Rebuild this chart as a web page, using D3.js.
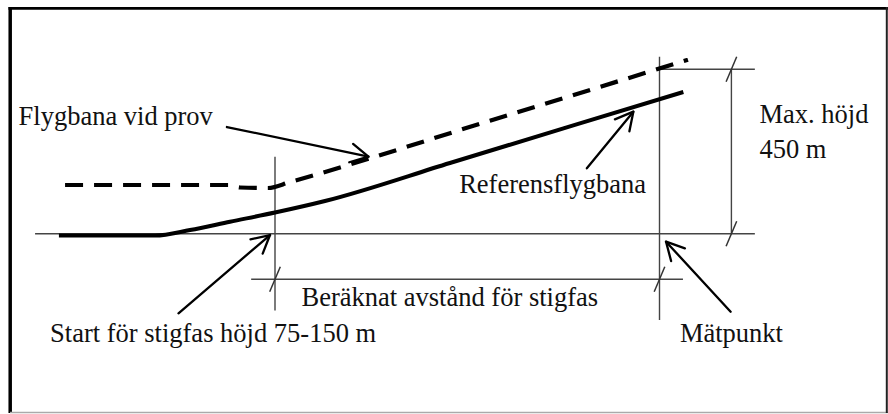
<!DOCTYPE html>
<html>
<head>
<meta charset="utf-8">
<script src="https://cdn.jsdelivr.net/npm/d3@7"></script>
<style>
  html, body { margin: 0; padding: 0; background: #fff; }
  svg { display: block; }
  text { font-family: "Liberation Serif", "Times New Roman", serif; font-size: 26.5px; fill: #111; }
</style>
</head>
<body>
<svg id="chart" width="888" height="414"></svg>
<script>
// ---- Data (x: distance units, 0 = start of climb, 100 = measuring point; y: height in m) ----
const referensflygbana = [[-56.2, -4.9], [-31.2, -4.9], [-22.1, 10.1], [-11.7, 32.8], [0, 58], [13, 89.5], [45.5, 193.5], [78.0, 297.8], [106.2, 387.9]];
const flygbanaVidProv = [[-54.6, 133.3], [-12.2, 133.3], [-9.1, 126.5], [-1.8, 125.1], [3.9, 141.5], [55.9, 309.3], [107.4, 476.1]];
const groundLine = [[-62.4, 0], [124.8, 0]];
const maxHeightLine = [[100, 450], [124.8, 450]];
const startVertical = [[0, 210.8], [0, -210.2]];
const measureVertical = [[100, 484.5], [100, -236.2]];
const heightDimension = [[118.7, 0], [118.7, 450]];
const distanceDimension = [[-6.2, -124.8], [106.1, -124.8]];
const dimensionTicks = [[118.7, 0], [118.7, 450], [0, -124.8], [100, -124.8]];
// arrows: [tailX, tailY, tipX, tipY]
const arrows = [
  [-12.5, 292, 24.3, 210.8],
  [81.1, 179, 93.2, 334],
  [-25.1, -217.9, -1.3, -3.6],
  [118.5, -213.5, 101.7, -21.9]
];
const labels = ["Flygbana vid prov", "Referensflygbana", "Max. höjd", "450 m",
                "Beräknat avstånd för stigfas", "Start för stigfas höjd 75-150 m", "Mätpunkt"];
const labelAnchors = [[-66.7, 298.9], [47.9, 110.6], [126, 302.2], [126, 206.4],
                      [6.9, -197.9], [-58.5, -295.6], [105.3, -296.4]];

// ---- Scales ----
const x = d3.scaleLinear().domain([0, 100]).range([275, 659.5]);
const y = d3.scaleLinear().domain([0, 450]).range([233.7, 69.3]);

const svg = d3.select("#chart");

// frame
svg.append("line").attr("x1", 10.2).attr("x2", 10.2).attr("y1", 7).attr("y2", 413)
  .attr("stroke", "#000").attr("stroke-width", 3.5);
svg.append("line").attr("x1", 8.5).attr("x2", 888).attr("y1", 8.3).attr("y2", 8.3)
  .attr("stroke", "#000").attr("stroke-width", 2.7);
svg.append("line").attr("x1", 10).attr("x2", 888).attr("y1", 412.5).attr("y2", 412.5)
  .attr("stroke", "#aaa").attr("stroke-width", 1.5);
svg.append("line").attr("x1", 886.8).attr("x2", 886.8).attr("y1", 7).attr("y2", 413)
  .attr("stroke", "#222").attr("stroke-width", 2);

const straight = d3.line().x(d => x(d[0])).y(d => y(d[1]));
const smooth = d3.line().x(d => x(d[0])).y(d => y(d[1])).curve(d3.curveMonotoneX);

// thin reference lines
const thin = [groundLine, maxHeightLine, startVertical, measureVertical, heightDimension, distanceDimension];
svg.append("g").selectAll("path").data(thin).join("path")
  .attr("d", straight).attr("fill", "none").attr("stroke", "#444").attr("stroke-width", 1.4);

// dimension slashes
svg.append("g").selectAll("line").data(dimensionTicks).join("line")
  .attr("x1", d => x(d[0]) - 5.3).attr("y1", d => y(d[1]) + 12.5)
  .attr("x2", d => x(d[0]) + 5.3).attr("y2", d => y(d[1]) - 12.5)
  .attr("stroke", "#333").attr("stroke-width", 1.5);

// flight paths
svg.append("path").datum(referensflygbana).attr("d", smooth)
  .attr("fill", "none").attr("stroke", "#000").attr("stroke-width", 4).attr("stroke-linejoin", "round");
svg.append("path").datum(flygbanaVidProv).attr("d", smooth)
  .attr("fill", "none").attr("stroke", "#000").attr("stroke-width", 4.2)
  .attr("stroke-dasharray", "18 11");

// arrows
const ag = svg.append("g").attr("stroke", "#000").attr("stroke-width", 2.3).attr("fill", "none")
  .attr("stroke-linecap", "round").attr("stroke-linejoin", "round");
arrows.forEach(a => {
  const tx = x(a[0]), ty = y(a[1]), hx = x(a[2]), hy = y(a[3]);
  const ang = Math.atan2(ty - hy, tx - hx);
  const L = 20, half = 28 * Math.PI / 180;
  ag.append("line").attr("x1", tx).attr("y1", ty).attr("x2", hx).attr("y2", hy);
  ag.append("path").attr("d",
    `M${hx + L * Math.cos(ang - half)},${hy + L * Math.sin(ang - half)}L${hx},${hy}L${hx + L * Math.cos(ang + half)},${hy + L * Math.sin(ang + half)}`);
});

// labels
svg.append("g").selectAll("text").data(labels).join("text")
  .attr("x", (d, i) => x(labelAnchors[i][0]))
  .attr("y", (d, i) => y(labelAnchors[i][1]))
  .text(d => d);
</script>
</body>
</html>
